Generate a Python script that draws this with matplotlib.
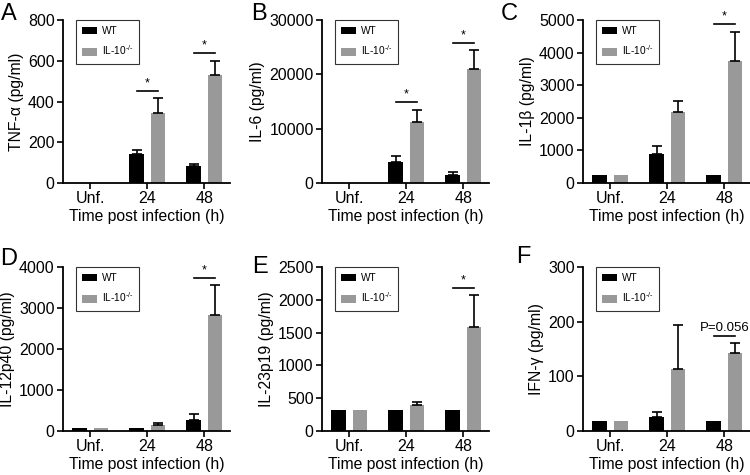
import numpy as np
import matplotlib
matplotlib.use("Agg")
import matplotlib.pyplot as plt

plt.rcParams["font.family"] = ["Liberation Sans", "DejaVu Sans"]
plt.rcParams["mathtext.fontset"] = "custom"
plt.rcParams["mathtext.rm"] = "Liberation Sans"
plt.rcParams["mathtext.default"] = "regular"

categories = ["Unf.", "24", "48"]

# mean values and upper SEM, WT vs IL-10-/-
tnf_wt = [2, 140, 83]
tnf_wt_err = [0, 21, 11]
tnf_ko = [2, 346, 530]
tnf_ko_err = [0, 69, 70]

il6_wt = [40, 3950, 1400]
il6_wt_err = [0, 1080, 550]
il6_ko = [40, 11200, 20900]
il6_ko_err = [0, 2300, 3500]

il1b_wt = [233, 900, 233]
il1b_wt_err = [0, 235, 0]
il1b_ko = [233, 2170, 3750]
il1b_ko_err = [0, 335, 895]

il12_wt = [74, 74, 263]
il12_wt_err = [0, 0, 150]
il12_ko = [74, 148, 2840]
il12_ko_err = [0, 42, 720]

il23_wt = [321, 321, 321]
il23_wt_err = [0, 0, 0]
il23_ko = [321, 393, 1587]
il23_ko_err = [0, 56, 484]

ifng_wt = [17.6, 25.6, 17.6]
ifng_wt_err = [0, 9.7, 0]
ifng_ko = [17.6, 113.8, 143]
ifng_ko_err = [0, 79.7, 18]

panels = [
    ("A", "TNF-α (pg/ml)", tnf_wt, tnf_wt_err, tnf_ko, tnf_ko_err, 800, 200, [(1, "*"), (2, "*")]),
    ("B", "IL-6 (pg/ml)", il6_wt, il6_wt_err, il6_ko, il6_ko_err, 30000, 10000, [(1, "*"), (2, "*")]),
    ("C", "IL-1β (pg/ml)", il1b_wt, il1b_wt_err, il1b_ko, il1b_ko_err, 5000, 1000, [(2, "*")]),
    ("D", "IL-12p40 (pg/ml)", il12_wt, il12_wt_err, il12_ko, il12_ko_err, 4000, 1000, [(2, "*")]),
    ("E", "IL-23p19 (pg/ml)", il23_wt, il23_wt_err, il23_ko, il23_ko_err, 2500, 500, [(2, "*")]),
    ("F", "IFN-γ (pg/ml)", ifng_wt, ifng_wt_err, ifng_ko, ifng_ko_err, 300, 100, [(2, "P=0.056")]),
]

# axes boxes in pixels: left, top, bottom
boxes = [(63, 20, 183), (322, 20, 183), (583, 20, 183),
         (63, 267, 431), (322, 267, 431), (583, 267, 431)]
letter_pos = [(1, 20), (251, 20), (501, 20), (0, 265), (252, 273), (516, 263)]

W, H = 750, 475
fig = plt.figure(figsize=(7.5, 4.75), dpi=100)

x = np.arange(len(categories))
bw = 0.25
off = 0.19

for (letter, ylab, wt, wt_err, ko, ko_err, ymax, ystep, sigs), (l, t, b), (lx, ly) in zip(panels, boxes, letter_pos):
    ax = fig.add_axes([l / W, (H - b) / H, 167 / W, (b - t) / H])

    ax.bar(x - off, wt, bw, color="black", label="WT")
    ax.bar(x + off, ko, bw, color="#999999", label="IL-10$^{\u2010/\u2010}$")

    for xs, vals, errs in [(x - off, wt, wt_err), (x + off, ko, ko_err)]:
        vals = np.array(vals, dtype=float)
        errs = np.array(errs, dtype=float)
        m = errs > 0
        if m.any():
            ax.errorbar(xs[m], vals[m], yerr=[np.zeros(m.sum()), errs[m]],
                        fmt="none", ecolor="black", elinewidth=1.2,
                        capsize=3.5, capthick=1.2)

    for i, txt in sigs:
        top = max(wt[i] + wt_err[i], ko[i] + ko_err[i])
        yl = top + 0.045 * ymax
        ax.plot([i - off, i + off], [yl, yl], color="black", lw=1.2)
        ax.text(i, yl + 0.01 * ymax, txt, ha="center", va="bottom",
                fontsize=9 if txt == "*" else 9.5)

    ax.set_xlim(-0.48, 2.45)
    ax.set_ylim(0, ymax)
    ax.set_yticks(np.arange(0, ymax + 1, ystep))
    ax.set_xticks(x)
    ax.set_xticklabels(categories)
    ax.spines["top"].set_visible(False)
    ax.spines["right"].set_visible(False)
    for s in ["left", "bottom"]:
        ax.spines[s].set_linewidth(1.3)
    ax.tick_params(direction="out", length=4, width=1.2, labelsize=11.5, pad=2)
    ax.set_ylabel(ylab, fontsize=11.3, labelpad=3)
    ax.set_xlabel("Time post infection (h)", fontsize=11.3, labelpad=2)

    leg = ax.legend(loc="upper left", bbox_to_anchor=(0.08, 1.0),
                    fancybox=False, edgecolor="black", fontsize=7.3,
                    handlelength=1.4, handleheight=0.75, labelspacing=0.75,
                    borderpad=0.6, handletextpad=0.5, borderaxespad=0)
    leg.get_frame().set_linewidth(0.8)

    fig.text(lx / W, 1 - ly / H, letter, fontsize=17, ha="left", va="baseline")

fig.savefig("out.png", dpi=100)
plt.close(fig)
